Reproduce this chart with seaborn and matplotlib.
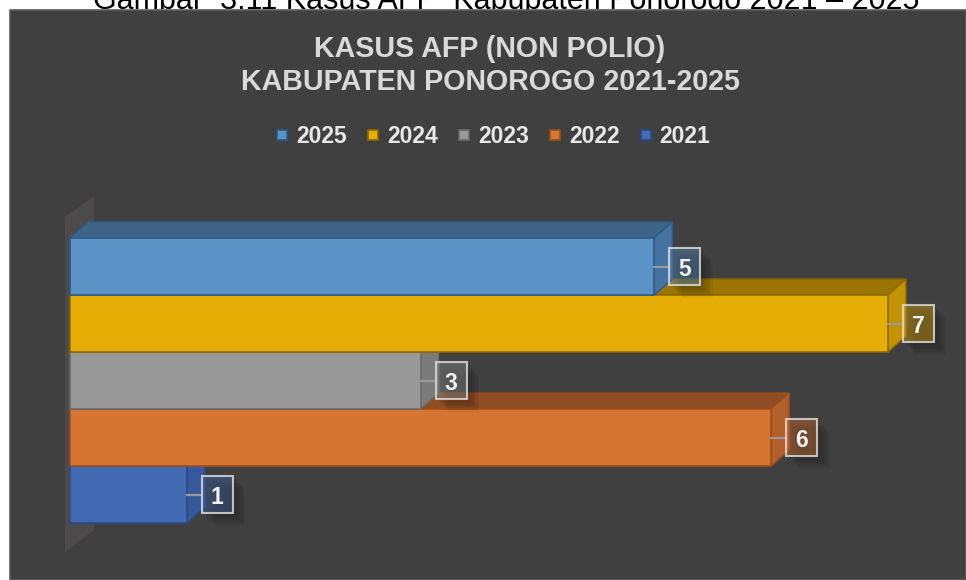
import numpy as np
import pandas as pd
import matplotlib
matplotlib.use('Agg')
import matplotlib.pyplot as plt
import seaborn as sns
from matplotlib.patches import Rectangle, Polygon
from matplotlib.lines import Line2D
from matplotlib.colors import to_rgba
import matplotlib.patheffects as pe

# ---------------- data ----------------
years = ['2025', '2024', '2023', '2022', '2021']
cases = [5, 7, 3, 6, 1]
category = ['AFP (Non Polio)'] * len(years)

front_colors = ['#5b93c6', '#e6ad07', '#999999', '#d67432', '#416ab3']
top_colors = ['#3e6487', '#9a7505', '#6e6e6e', '#8f4d24', '#2f4d85']
side_colors = ['#4473a1', '#c39200', '#7b7b7b', '#b35f2a', '#35599a']
edge_colors = ['#2d5b8a', '#8c6b00', '#6a6a6a', '#9c4f1c', '#2a4a86']

title_lines = ['KASUS AFP (NON POLIO)', 'KABUPATEN PONOROGO 2021-2025']
caption = 'Gambar  3.11 Kasus AFP  Kabupaten Ponorogo 2021 \u2013 2025'

# ---------------- figure ----------------
W, H = 966, 580
BG = '#404040'
sns.set_theme(style='white')
plt.rcParams['font.family'] = ['Liberation Sans', 'DejaVu Sans']

fig = plt.figure(figsize=(W / 100, H / 100), dpi=100, facecolor='white')

# caption (partly cut off at the top, as in the source document)
fig.text(506 / W, 1 - 8.7 / H, caption, ha='center', va='baseline',
         fontsize=22, color='black', zorder=-2)

# dark chart panel
panel = Rectangle((10 / W, 0), (W - 10) / W, (H - 10) / H, transform=fig.transFigure,
                  fc=BG, ec='#5c5c5c', lw=1.2, zorder=-1)
fig.patches.append(panel)

# title
fig.text(490 / W, 1 - 57 / H, title_lines[0], ha='center', va='baseline',
         fontsize=20.6, fontweight='bold', color='#d9d9d9')
fig.text(490 / W, 1 - 90 / H, title_lines[1], ha='center', va='baseline',
         fontsize=20.6, fontweight='bold', color='#d9d9d9')

# axes
ax = fig.add_axes([70 / W, 1 - 558 / H, 876.4 / W, 370 / H])
ax.set_zorder(1)
df = pd.DataFrame({'cat': category, 'year': years, 'cases': cases})
sns.barplot(data=df, x='cases', y='cat', hue='year', hue_order=years,
            palette=front_colors, orient='h', width=0.8, dodge=True,
            saturation=1, legend=False, ax=ax)
ax.set_xlim(0, 7.5)
ax.set_ylim(0.4982, -0.5404)
ax.set_axis_off()

inv = ax.transData.inverted()


def to_data(pts):
    return inv.transform(np.asarray(pts, dtype=float))


def px(x, y):  # pixel from top-left -> display
    return (x, H - y)


# back wall
wall = [px(65, 217), px(94, 196), px(94, 530), px(65, 552)]
ax.add_patch(Polygon(to_data(wall), closed=True, fc='#4c4a4a', ec='none',
                     zorder=1, clip_on=False))

DX, DY = 18, 16
n = len(years)
bars = list(ax.patches)[:n]
for i, p in enumerate(bars):
    x0, y0 = p.get_x(), p.get_y()
    w, h = p.get_width(), p.get_height()
    (Xa, Ya), (Xb, Yb) = ax.transData.transform([(x0, y0), (x0 + w, y0 + h)])
    X0, X1 = min(Xa, Xb), max(Xa, Xb)
    Ytop, Ybot = max(Ya, Yb), min(Ya, Yb)
    base = 2 + (n - i)
    top = [(X0, Ytop), (X1, Ytop), (X1 + DX, Ytop + DY), (X0 + DX, Ytop + DY)]
    side = [(X1, Ybot), (X1, Ytop), (X1 + DX, Ytop + DY), (X1 + DX, Ybot + DY)]
    ax.add_patch(Polygon(to_data(top), closed=True, fc=top_colors[i],
                         ec=edge_colors[i], lw=1.0, zorder=base, clip_on=False))
    ax.add_patch(Polygon(to_data(side), closed=True, fc=side_colors[i],
                         ec=edge_colors[i], lw=1.0, zorder=base + 0.1, clip_on=False))
    p.set_zorder(base + 0.2)
    p.set_edgecolor(edge_colors[i])
    p.set_linewidth(1.2)
    p.set_clip_on(False)

    # data label
    cy = (Ytop + Ybot) / 2
    cx = X1 + 30.5
    lx, ly = to_data([(X1, cy), (X1 + 15, cy)]).T
    ax.add_line(Line2D(lx, ly, color='#9a9a9a', lw=1.6, zorder=20, clip_on=False))
    bw, bh = 15.5, 18.5
    box = [(cx - bw, cy - bh), (cx + bw, cy - bh), (cx + bw, cy + bh), (cx - bw, cy + bh)]
    shadow_fx = [pe.SimplePatchShadow(offset=(o, -o), shadow_rgbFace='black', alpha=0.035)
                 for o in (1, 2, 3, 4, 5, 6, 7, 8, 9)]
    bp = Polygon(to_data(box), closed=True, fc=to_rgba(front_colors[i], 0.40),
                 ec=(0.85, 0.85, 0.85, 0.85), lw=1.5, zorder=21, clip_on=False)
    bp.set_path_effects(shadow_fx + [pe.Normal()])
    ax.add_patch(bp)
    tx, ty = to_data([(cx, cy)])[0]
    ax.text(tx, ty, str(cases[i]), ha='center', va='center_baseline',
            fontsize=16.5, fontweight='bold', color='#f2f2f2', zorder=22, clip_on=False)

# legend
handles = [Line2D([], [], ls='', marker='s', markersize=7.5, mfc=c, mec=e, mew=1.2)
           for c, e in zip(front_colors, edge_colors)]
fig.legend(handles, years, loc='center', bbox_to_anchor=(493.5 / W, 1 - 136.7 / H),
           ncol=5, frameon=False, prop={'size': 16.5, 'weight': 'bold'},
           labelcolor='#e8e8e8', handlelength=0.5, handletextpad=0.35,
           columnspacing=0.9, borderpad=0, borderaxespad=0)

fig.savefig('out.png', dpi=100, facecolor='white')
